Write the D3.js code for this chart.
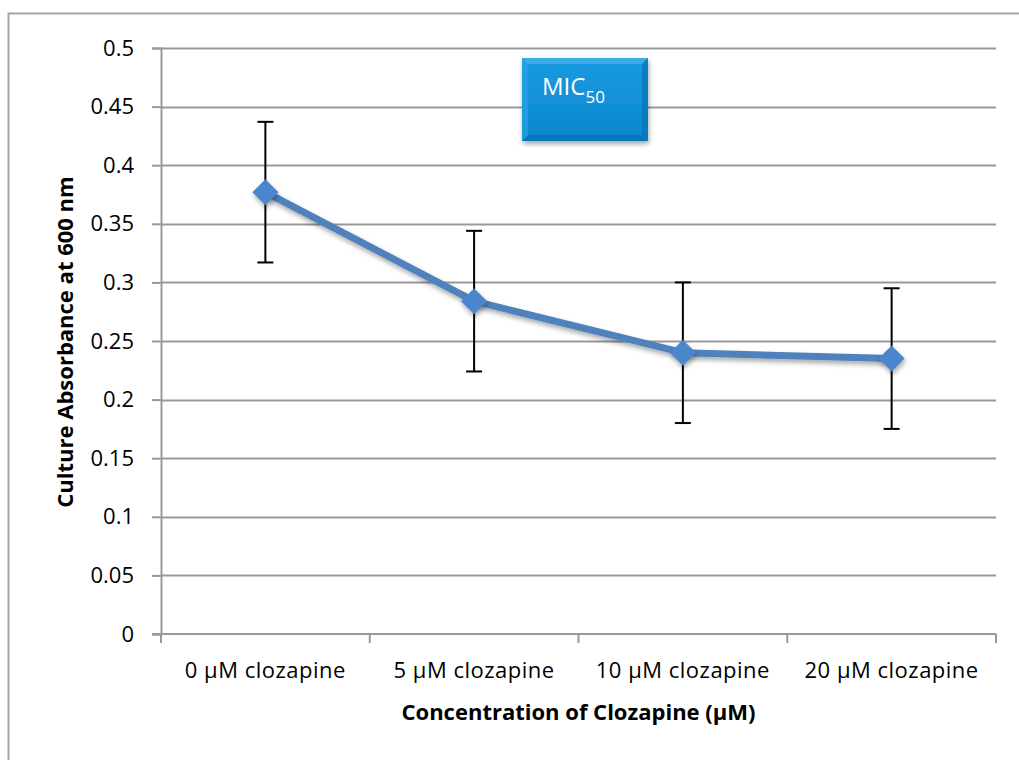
<!DOCTYPE html>
<html>
  <head>
    <meta charset="utf-8">
    <title>Clozapine MIC</title>
    <script src="https://d3js.org/d3.v7.min.js" charset="utf-8"></script>
    <style>
      body {
        margin: 0;
        background: #fff;
        overflow: hidden;
      }
      text {
        font-family: "Open Sans", "Noto Sans", sans-serif;
      }
    </style>
  </head>
  <body>
    <script type="text/javascript">
      var width = 1019,
          height = 760;

      // data
      var categories = ["0 \u00b5M clozapine", "5 \u00b5M clozapine", "10 \u00b5M clozapine", "20 \u00b5M clozapine"];
      var absorbance = [0.377, 0.284, 0.240, 0.235];
      var errors = [0.06, 0.06, 0.06, 0.06];
      var yTicks = [0, 0.05, 0.1, 0.15, 0.2, 0.25, 0.3, 0.35, 0.4, 0.45, 0.5];
      var micPosition = 2; // boundary between 5 and 10 uM
      var micRange = [0.04, 0.41];

      var margin = {left: 161, right: 23, top: 48, bottom: 126};

      var svg = d3.select("body").append("svg")
                  .attr("width", width)
                  .attr("height", height);

      // outer chart frame (only top & left visible)
      svg.append("rect")
         .attr("x", 8.5).attr("y", 13.5)
         .attr("width", 1030).attr("height", 800)
         .attr("fill", "none")
         .attr("stroke", "#a6a6a6")
         .attr("stroke-width", 2);

      var x = d3.scaleBand()
                .domain(categories)
                .range([margin.left, width - margin.right]);

      var y = d3.scaleLinear()
                .domain([0, 0.5])
                .range([height - margin.bottom, margin.top]);

      var defs = svg.append("defs");
      var shadow = defs.append("filter").attr("id", "shadow")
                       .attr("x", "-30%").attr("y", "-30%").attr("width", "160%").attr("height", "160%");
      shadow.append("feDropShadow").attr("dx", 1).attr("dy", 3).attr("stdDeviation", 2.5)
            .attr("flood-color", "#000").attr("flood-opacity", 0.35);

      var grad = defs.append("linearGradient").attr("id", "boxGrad")
                     .attr("x1", 0).attr("y1", 0).attr("x2", 0).attr("y2", 1);
      grad.append("stop").attr("offset", "0%").attr("stop-color", "#1b9be0");
      grad.append("stop").attr("offset", "100%").attr("stop-color", "#0a86cc");

      // gridlines
      svg.append("g")
         .selectAll("line")
         .data(yTicks.filter(function(d) { return d > 0; }))
         .enter().append("line")
         .attr("x1", margin.left).attr("x2", width - margin.right)
         .attr("y1", function(d) { return Math.round(y(d)) + 0.5; })
         .attr("y2", function(d) { return Math.round(y(d)) + 0.5; })
         .attr("stroke", "#999")
         .attr("stroke-width", 2);

      // y axis
      var yAxis = svg.append("g")
         .attr("transform", "translate(" + margin.left + ",0)")
         .call(d3.axisLeft(y).tickValues(yTicks).tickSize(9).tickPadding(18)
                 .tickFormat(function(d) { return String(+d.toFixed(2)); }));
      yAxis.select(".domain").attr("stroke", "#999").attr("stroke-width", 2);
      yAxis.selectAll(".tick line").attr("stroke", "#999").attr("stroke-width", 2);
      yAxis.selectAll("text").attr("font-size", 22).attr("fill", "#000")
           .attr("font-family", "'Open Sans', 'Noto Sans', sans-serif");

      // x axis
      var xAxisY = y(0);
      var xg = svg.append("g");
      xg.append("line")
        .attr("x1", margin.left - 9).attr("x2", width - margin.right)
        .attr("y1", xAxisY).attr("y2", xAxisY)
        .attr("stroke", "#999").attr("stroke-width", 2);
      var bounds = categories.map(function(c) { return x(c); }).concat([width - margin.right]);
      xg.selectAll(".xtick")
        .data(bounds)
        .enter().append("line")
        .attr("x1", function(d) { return d; }).attr("x2", function(d) { return d; })
        .attr("y1", xAxisY).attr("y2", xAxisY + 9)
        .attr("stroke", "#999").attr("stroke-width", 2);
      xg.selectAll(".xlabel")
        .data(categories)
        .enter().append("text")
        .attr("x", function(d) { return x(d) + x.bandwidth() / 2; })
        .attr("y", xAxisY + 44)
        .attr("text-anchor", "middle")
        .attr("font-size", 22)
        .attr("letter-spacing", 0.5)
        .text(function(d) { return d; });

      // axis titles
      svg.append("text")
         .attr("x", x(categories[0]) + (width - margin.right - margin.left) / 2)
         .attr("y", 720)
         .attr("text-anchor", "middle")
         .attr("font-size", 22)
         .attr("font-weight", "bold")
         .text("Concentration of Clozapine (\u00b5M)");

      svg.append("text")
         .attr("transform", "translate(73," + (y(0.25) + 1) + ") rotate(-90)")
         .attr("text-anchor", "middle")
         .attr("font-size", 22)
         .attr("font-weight", "bold")
         .text("Culture Absorbance at 600 nm");

      var cx = function(i) { return x(categories[i]) + x.bandwidth() / 2; };

      // error bars
      var eb = svg.append("g").selectAll("g")
                  .data(absorbance)
                  .enter().append("g");
      eb.append("line")
        .attr("x1", function(d, i) { return cx(i); }).attr("x2", function(d, i) { return cx(i); })
        .attr("y1", function(d, i) { return y(d + errors[i]); })
        .attr("y2", function(d, i) { return y(d - errors[i]); })
        .attr("stroke", "#000").attr("stroke-width", 2);
      [1, -1].forEach(function(s) {
        eb.append("line")
          .attr("x1", function(d, i) { return cx(i) - 8; }).attr("x2", function(d, i) { return cx(i) + 8; })
          .attr("y1", function(d, i) { return y(d + s * errors[i]); })
          .attr("y2", function(d, i) { return y(d + s * errors[i]); })
          .attr("stroke", "#000").attr("stroke-width", 2);
      });

      // MIC dashed line
      var micX = x(categories[micPosition]) + 2;
      svg.append("line")
         .attr("x1", micX).attr("x2", micX)
         .attr("y1", y(micRange[1])).attr("y2", y(micRange[0]))
         .attr("stroke", "#5b93cf").attr("stroke-width", 3)
         .attr("stroke-dasharray", "10,5")
         .attr("filter", "url(#shadow)");

      // series line
      var line = d3.line()
                   .x(function(d, i) { return cx(i); })
                   .y(function(d) { return y(d); });
      svg.append("path")
         .datum(absorbance)
         .attr("d", line)
         .attr("fill", "none")
         .attr("stroke", "#4f81bd")
         .attr("stroke-width", 7)
         .attr("stroke-linejoin", "round")
         .attr("filter", "url(#shadow)");

      // diamond markers
      svg.append("g").selectAll("path")
         .data(absorbance)
         .enter().append("path")
         .attr("d", "M0,-13L13,0L0,13L-13,0Z")
         .attr("transform", function(d, i) { return "translate(" + cx(i) + "," + y(d) + ")"; })
         .attr("fill", "#4a86cc")
         .attr("filter", "url(#shadow)");

      // MIC50 box
      var box = svg.append("g").attr("transform", "translate(522,58)");
      box.append("rect")
         .attr("width", 126).attr("height", 83)
         .attr("fill", "url(#boxGrad)")
         .attr("filter", "url(#shadow)");
      box.append("path")
         .attr("d", "M0,0L126,0L120,6L6,6Z")
         .attr("fill", "#4ab4ec").attr("opacity", 0.7);
      box.append("path")
         .attr("d", "M0,83L126,83L120,77L6,77Z")
         .attr("fill", "#0670b0").attr("opacity", 0.7);
      box.append("path")
         .attr("d", "M0,0L6,6L6,77L0,83Z")
         .attr("fill", "#2aa2e4").attr("opacity", 0.7);
      box.append("path")
         .attr("d", "M126,0L120,6L120,77L126,83Z")
         .attr("fill", "#0774b8").attr("opacity", 0.7);
      var t = box.append("text")
         .attr("x", 20).attr("y", 37)
         .attr("fill", "#fff")
         .attr("font-size", 24);
      t.append("tspan").text("MIC");
      t.append("tspan").attr("font-size", 17).attr("dy", 8).text("50");
    </script>
  </body>
</html>
